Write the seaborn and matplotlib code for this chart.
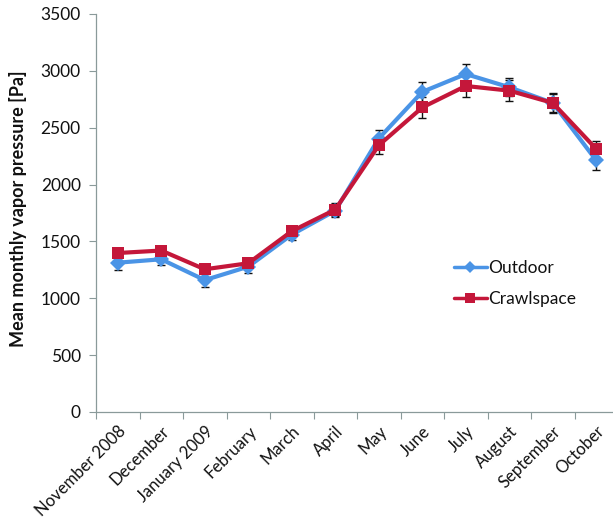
import numpy as np
import pandas as pd
import matplotlib
matplotlib.use("Agg")
import matplotlib.pyplot as plt
import seaborn as sns
from matplotlib.lines import Line2D

months = ["November 2008", "December", "January 2009", "February", "March",
          "April", "May", "June", "July", "August", "September", "October"]
outdoor = [1313, 1343, 1160, 1278, 1560, 1770, 2405, 2815, 2972, 2856, 2718, 2212]
crawlspace = [1398, 1420, 1255, 1308, 1590, 1780, 2345, 2678, 2867, 2826, 2718, 2313]
outdoor_err = [65, 50, 60, 55, 50, 55, 75, 85, 85, 80, 80, 80]
crawlspace_err = [45, 40, 45, 40, 45, 60, 75, 95, 95, 90, 85, 70]

series_names = ["Outdoor", "Crawlspace"]
colors = {"Outdoor": "#4a94e6", "Crawlspace": "#c4173a"}
markers = {"Outdoor": "D", "Crawlspace": "s"}

df = pd.DataFrame({
    "x": list(range(len(months))) * 2,
    "value": outdoor + crawlspace,
    "err": outdoor_err + crawlspace_err,
    "series": ["Outdoor"] * len(months) + ["Crawlspace"] * len(months),
})

sns.set_theme(style="white")
plt.rcParams["font.family"] = ["Lato", "DejaVu Sans"]

fig = plt.figure(figsize=(6.13, 5.29), dpi=100)
ax = fig.add_axes([96 / 613, 117 / 529, 522 / 613, 398 / 529])

# error bars behind the lines
for name in series_names:
    sub = df[df["series"] == name]
    ax.errorbar(sub["x"], sub["value"], yerr=sub["err"], fmt="none",
                ecolor="#111111", elinewidth=1.0, capsize=3, capthick=1.0,
                zorder=1)

sns.lineplot(data=df, x="x", y="value", hue="series", style="series",
             hue_order=series_names, style_order=series_names,
             palette=colors, markers=markers, dashes=False,
             linewidth=3, markersize=8, markeredgewidth=0, ax=ax,
             legend=False, zorder=3)

# legend
handles = [Line2D([], [], color=colors[n], marker=markers[n], lw=2.5,
                  markersize=6 if n == "Outdoor" else 7, markeredgewidth=0)
           for n in series_names]
leg = ax.legend(handles, series_names, loc="upper left",
                bbox_to_anchor=(0.655, 0.42), frameon=False,
                fontsize=12.5, handlelength=1.9, handletextpad=0.1,
                labelspacing=0.85)
for t in leg.get_texts():
    t.set_color("#111111")

ax.set_xlim(-0.5, len(months) - 0.5)
ax.set_ylim(0, 3500)
ax.set_yticks(np.arange(0, 3501, 500))
ax.set_yticklabels([str(v) for v in range(0, 3501, 500)], fontsize=12.5,
                   color="#111111")

# category boundary ticks on the x axis, labels at category centres
ax.set_xticks(np.arange(-0.5, len(months), 1.0))
ax.set_xticklabels([])
ax.set_xticks(np.arange(len(months)), minor=True)
ax.set_xticklabels(months, minor=True, rotation=45, ha="right",
                   rotation_mode="anchor", fontsize=12, color="#111111")
ax.tick_params(axis="x", which="minor", length=0, pad=8)
ax.tick_params(axis="x", which="major", direction="out", length=5,
               width=0.8, color="#8a9a9a", bottom=True)
ax.tick_params(axis="y", direction="out", length=5, width=0.8,
               color="#8a9a9a", left=True, pad=6)

for s in ["top", "right"]:
    ax.spines[s].set_visible(False)
for s in ["left", "bottom"]:
    ax.spines[s].set_color("#8a9a9a")
    ax.spines[s].set_linewidth(0.9)

ax.set_xlabel("")
ax.set_ylabel("Mean monthly vapor pressure [Pa]", fontsize=13,
              fontweight="bold", color="#111111")
ax.yaxis.set_label_coords(-0.132, 0.51)

fig.savefig("out.png", dpi=100)
